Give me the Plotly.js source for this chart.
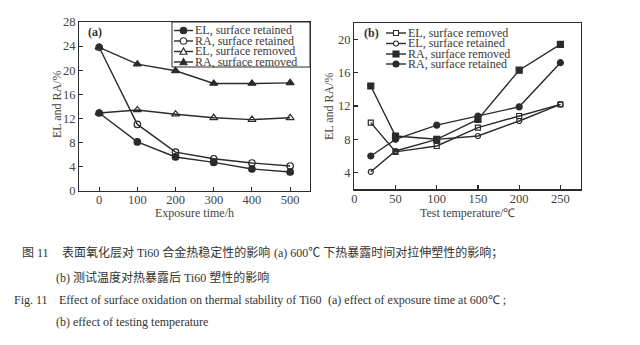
<!DOCTYPE html>
<html>
<head>
<meta charset="utf-8">
<script src="https://cdn.plot.ly/plotly-3.0.1.min.js"></script>
<style>
html,body{margin:0;padding:0;background:#fff;}
#chart{width:640px;height:345px;}
</style>
</head>
<body>
<div id="chart"></div>
<script>
// ---- Data: panel (a) effect of exposure time at 600 ℃ ----
const expTime = [0, 100, 200, 300, 400, 500];
const elRetainedA = [12.9, 8.1, 5.6, 4.7, 3.6, 3.1];
const raRetainedA = [23.8, 11.0, 6.4, 5.3, 4.6, 4.1];
const elRemovedA = [12.9, 13.4, 12.7, 12.1, 11.8, 12.1];
const raRemovedA = [23.8, 21.0, 19.9, 17.8, 17.8, 17.9];

// ---- Data: panel (b) effect of testing temperature ----
const testTemp = [20, 50, 100, 150, 200, 250];
const elRemovedB = [10.0, 6.5, 7.2, 9.4, 10.8, 12.2];
const elRetainedB = [4.1, 6.6, 8.0, 8.4, 10.2, 12.2];
const raRemovedB = [14.4, 8.4, 8.0, 10.4, 16.3, 19.4];
const raRetainedB = [6.0, 8.0, 9.7, 10.8, 11.9, 17.2];

// ---- Labels ----
const legendA = ["EL, surface retained", "RA, surface retained", "EL, surface removed", "RA, surface removed"];
const legendB = ["EL, surface removed", "EL, surface retained", "RA, surface removed", "RA, surface retained"];
const ticksAx = [0, 100, 200, 300, 400, 500];
const ticksAy = [0, 4, 8, 12, 16, 20, 24, 28];
const ticksBx = [0, 50, 100, 150, 200, 250];
const ticksBy = [4, 8, 12, 16, 20];

const W = 640, H = 345;
const px = v => v / W;
const py = v => 1 - v / H;
const INK = '#2b2b2b';
const SERIF = 'Liberation Serif, Times New Roman, serif';
const CJK = 'Liberation Serif, Noto Sans CJK SC, serif';

const symA = [
  {symbol: 'circle', size: 6.5},
  {symbol: 'circle-open', size: 6.5},
  {symbol: 'triangle-up-open', size: 7},
  {symbol: 'triangle-up', size: 7}
];
const symB = [
  {symbol: 'square-open', size: 5},
  {symbol: 'circle-open', size: 5},
  {symbol: 'square', size: 6},
  {symbol: 'circle', size: 6}
];

function trace(x, y, s, xa, ya, name) {
  return {
    x: x, y: y, name: name, type: 'scatter', mode: 'lines+markers',
    xaxis: xa, yaxis: ya, showlegend: false,
    line: {color: INK, width: 1.4},
    marker: {symbol: s.symbol, size: s.size, color: INK, line: {color: INK, width: 1.2}}
  };
}

const seriesA = [elRetainedA, raRetainedA, elRemovedA, raRemovedA];
const seriesB = [elRemovedB, elRetainedB, raRemovedB, raRetainedB];
const data = [];
seriesA.forEach((s, i) => data.push(trace(expTime, s, symA[i], 'x', 'y', legendA[i])));
seriesB.forEach((s, i) => data.push(trace(testTemp, s, symB[i], 'x2', 'y2', legendB[i])));

// ---- Legend drawn with shapes + annotations ----
const shapes = [];
const annotations = [];

function marker(cx, cy, s) {
  const r = s.size / 2;
  const open = s.symbol.indexOf('open') >= 0;
  const fill = open ? '#fff' : INK;
  const base = {xref: 'paper', yref: 'paper', line: {color: INK, width: 1.1}, fillcolor: fill};
  if (s.symbol.indexOf('circle') === 0) {
    shapes.push(Object.assign({type: 'circle', x0: px(cx - r), x1: px(cx + r), y0: py(cy + r), y1: py(cy - r)}, base));
  } else if (s.symbol.indexOf('square') === 0) {
    shapes.push(Object.assign({type: 'rect', x0: px(cx - r), x1: px(cx + r), y0: py(cy + r), y1: py(cy - r)}, base));
  } else {
    const p = 'M' + px(cx - r) + ',' + py(cy + r * 0.8) + ' L' + px(cx + r) + ',' + py(cy + r * 0.8) +
              ' L' + px(cx) + ',' + py(cy - r) + ' Z';
    shapes.push(Object.assign({type: 'path', path: p}, base));
  }
}

function legend(labels, syms, x0, x1, xt, ys) {
  labels.forEach((lab, i) => {
    const y = ys[i];
    shapes.push({type: 'line', xref: 'paper', yref: 'paper', x0: px(x0), x1: px(x1), y0: py(y), y1: py(y),
                 line: {color: INK, width: 1.4}});
    marker((x0 + x1) / 2, y, syms[i]);
    annotations.push({xref: 'paper', yref: 'paper', x: px(xt), y: py(y), xanchor: 'left', yanchor: 'middle',
                      text: lab, showarrow: false, font: {family: SERIF, size: 12, color: '#3a3a3a'}, borderpad: 0});
  });
}

// legend box for panel (a)
shapes.push({type: 'rect', xref: 'paper', yref: 'paper', x0: px(172), x1: px(310), y0: py(67), y1: py(22),
             line: {color: INK, width: 1}, fillcolor: 'rgba(0,0,0,0)'});
legend(legendA, symA, 174, 193, 194, [30.5, 41, 51.5, 62]);
legend(legendB, symB, 386, 406, 407, [33, 43.5, 54, 64]);

// panel tags
annotations.push({xref: 'paper', yref: 'paper', x: px(86), y: py(32), xanchor: 'left', yanchor: 'middle',
                  text: '<b>(a)</b>', showarrow: false, font: {family: SERIF, size: 12, color: '#333'}});
annotations.push({xref: 'paper', yref: 'paper', x: px(362), y: py(33), xanchor: 'left', yanchor: 'middle',
                  text: '<b>(b)</b>', showarrow: false, font: {family: SERIF, size: 12, color: '#333'}});

// axis titles
const titleFont = {family: SERIF, size: 12, color: '#444'};
annotations.push({xref: 'paper', yref: 'paper', x: px(194.5), y: py(213), xanchor: 'center', yanchor: 'middle',
                  text: 'Exposure time/h', showarrow: false, font: titleFont});
annotations.push({xref: 'paper', yref: 'paper', x: px(467.5), y: py(213), xanchor: 'center', yanchor: 'middle',
                  text: 'Test temperature/℃', showarrow: false, font: titleFont});
annotations.push({xref: 'paper', yref: 'paper', x: px(57), y: py(104), xanchor: 'center', yanchor: 'middle',
                  text: 'EL and RA/%', textangle: -90, showarrow: false, font: titleFont});
annotations.push({xref: 'paper', yref: 'paper', x: px(329), y: py(106), xanchor: 'center', yanchor: 'middle',
                  text: 'EL and RA/%', textangle: -90, showarrow: false, font: titleFont});

// caption
const capCJK = {family: CJK, size: 12, color: '#333'};
const capEN = {family: SERIF, size: 12, color: '#333'};
function cap(x, y, t, f) {
  annotations.push({xref: 'paper', yref: 'paper', x: px(x), y: py(y), xanchor: 'left', yanchor: 'middle',
                    text: t, showarrow: false, font: f, borderpad: 0});
}
cap(21, 253, '图 11', capCJK);
cap(61, 253, '表面氧化层对 Ti60 合金热稳定性的影响', capCJK);
cap(273, 253, '(a) 600℃ 下热暴露时间对拉伸塑性的影响；', capCJK);
cap(55, 277, '(b) 测试温度对热暴露后 Ti60 塑性的影响', capCJK);
cap(13, 300, 'Fig. 11', capEN);
cap(58, 300, 'Effect of surface oxidation on thermal stability of Ti60', capEN);
cap(327, 300, '(a) effect of exposure time at 600℃ ;', capEN);
cap(55, 322, '(b) effect of testing temperature', capEN);

const axBase = {
  showline: true, mirror: true, linecolor: INK, linewidth: 1.2,
  ticks: 'inside', ticklen: 4, tickwidth: 1.1, tickcolor: INK,
  showgrid: false, zeroline: false, tickmode: 'array',
  tickfont: {family: SERIF, size: 12.5, color: '#444'}
};

const layout = {
  width: W, height: H,
  margin: {l: 0, r: 0, t: 0, b: 0, pad: 0},
  paper_bgcolor: '#fff', plot_bgcolor: '#fff',
  showlegend: false,
  xaxis: Object.assign({}, axBase, {domain: [px(79.3), px(310)], range: [-52, 552], tickvals: ticksAx,
                                      ticktext: ticksAx.map(String), anchor: 'y', ticklabelstandoff: -3}),
  yaxis: Object.assign({}, axBase, {domain: [py(190.7), py(22)], range: [0, 28], tickvals: ticksAy,
                                      ticktext: ticksAy.map(String), anchor: 'x'}),
  xaxis2: Object.assign({}, axBase, {domain: [px(354.3), px(581)], range: [0, 275], tickvals: ticksBx,
                                       ticktext: ticksBx.map(String), anchor: 'y2', ticklabelstandoff: -3}),
  yaxis2: Object.assign({}, axBase, {domain: [py(189.3), py(22.7)], range: [2, 22], tickvals: ticksBy,
                                       ticktext: ticksBy.map(String), anchor: 'x2'}),
  shapes: shapes,
  annotations: annotations
};

Plotly.newPlot('chart', data, layout, {displayModeBar: false, staticPlot: true});
</script>
</body>
</html>
